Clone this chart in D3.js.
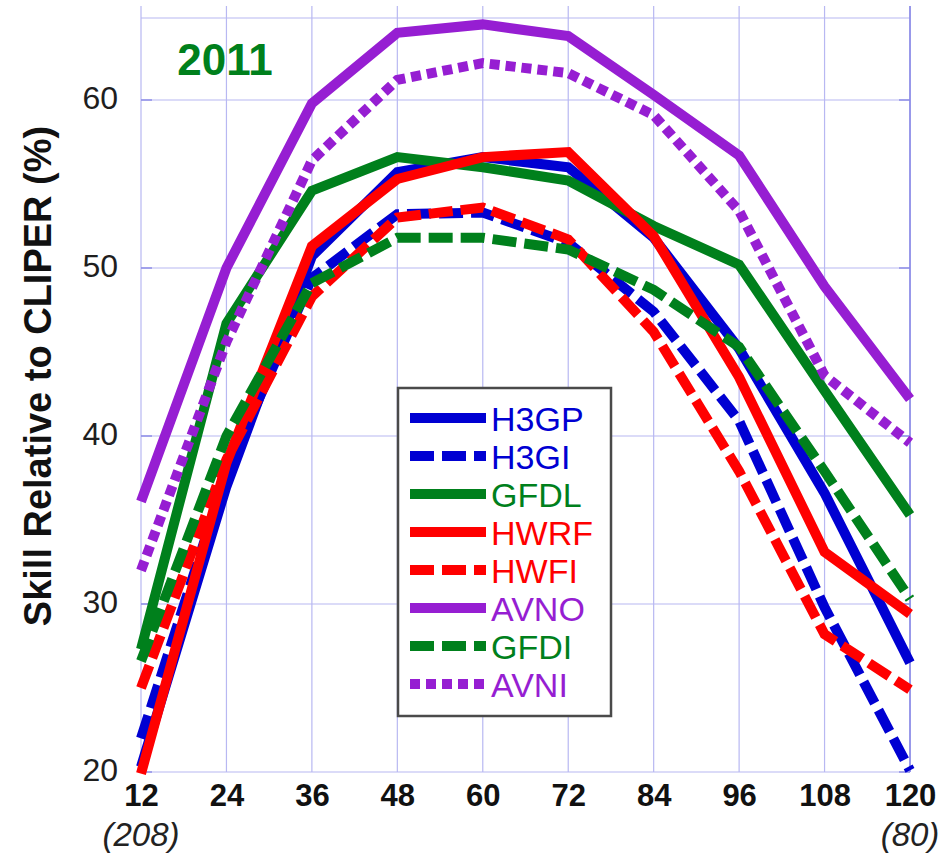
<!DOCTYPE html>
<html>
<head>
<meta charset="utf-8">
<script src="https://cdn.jsdelivr.net/npm/d3@7/dist/d3.min.js"></script>
<style>
  html, body { margin: 0; padding: 0; background: #fff; }
  svg { display: block; font-family: "Liberation Sans", Arial, Helvetica, sans-serif; }
</style>
</head>
<body>
<svg id="chart" width="943" height="854"></svg>
<script>
// Forecast hours and the number of verifying cases at the ends
const leadTimes = [12, 24, 36, 48, 60, 72, 84, 96, 108, 120];
const caseCounts = { 12: "(208)", 120: "(80)" };
const yTicks = [20, 30, 40, 50, 60];

// Track forecast skill relative to CLIPER (%), one array per model
const H3GP = [20.3, 37.0, 50.7, 55.7, 56.6, 56.0, 51.8, 45.2, 36.6, 26.5];
const H3GI = [22.0, 37.8, 49.4, 53.2, 53.3, 51.5, 47.4, 40.9, 29.8, 20.1];
const GFDL = [27.3, 46.7, 54.6, 56.6, 56.0, 55.2, 52.5, 50.2, 42.7, 35.3];
const HWRF = [19.9, 38.4, 51.3, 55.3, 56.6, 56.9, 51.9, 43.5, 33.1, 29.4];
const HWFI = [25.0, 38.6, 48.3, 53.0, 53.6, 51.7, 46.2, 37.9, 28.2, 24.9];
const AVNO = [36.1, 50.0, 59.8, 64.0, 64.5, 63.8, 60.3, 56.7, 48.9, 42.2];
const GFDI = [26.6, 40.0, 49.1, 51.8, 51.8, 51.1, 48.7, 45.3, 37.9, 30.3];
const AVNI = [32.0, 45.6, 56.4, 61.2, 62.2, 61.6, 59.1, 53.4, 43.6, 39.6];

const seriesNames = ["H3GP", "H3GI", "GFDL", "HWRF", "HWFI", "AVNO", "GFDI", "AVNI"];
const seriesValues = [H3GP, H3GI, GFDL, HWRF, HWFI, AVNO, GFDI, AVNI];

// Line styling per model
const BLUE = "#0000d2", GREEN = "#00801c", RED = "#ff0000", PURPLE = "#961ed2";
const styles = {
  H3GP: { color: BLUE,   dash: null },
  H3GI: { color: BLUE,   dash: "24,8" },
  GFDL: { color: GREEN,  dash: null },
  HWRF: { color: RED,    dash: null },
  HWFI: { color: RED,    dash: "24,8" },
  AVNO: { color: PURPLE, dash: null },
  GFDI: { color: GREEN,  dash: "24,8" },
  AVNI: { color: PURPLE, dash: "10,6" }
};

const svg = d3.select("#chart");
const GRID = "#b8b8f2", TICK = "#8a8ae6";

const x = d3.scaleLinear().domain([12, 120]).range([141, 910]);
const y = d3.scaleLinear().domain([20, 65]).range([772, 16]);
const yTop = 64.88;

// Grid
const grid = svg.append("g");
grid.selectAll("line.v").data(leadTimes).join("line")
  .attr("x1", d => x(d)).attr("x2", d => x(d))
  .attr("y1", 6).attr("y2", y(20))
  .attr("stroke", GRID).attr("stroke-width", 1.2);
grid.selectAll("line.h").data(yTicks.concat([yTop])).join("line")
  .attr("x1", x(12)).attr("x2", x(120))
  .attr("y1", d => y(d)).attr("y2", d => y(d))
  .attr("stroke", GRID).attr("stroke-width", 1.2);
// small inward ticks on both sides
grid.selectAll("line.tl").data(yTicks).join("line")
  .attr("x1", x(12)).attr("x2", x(12) + 11)
  .attr("y1", d => y(d)).attr("y2", d => y(d))
  .attr("stroke", TICK).attr("stroke-width", 1.4);
grid.selectAll("line.tr").data(yTicks).join("line")
  .attr("x1", x(120) - 11).attr("x2", x(120))
  .attr("y1", d => y(d)).attr("y2", d => y(d))
  .attr("stroke", TICK).attr("stroke-width", 1.4);
grid.append("line")
  .attr("x1", x(120)).attr("x2", x(120)).attr("y1", 6).attr("y2", y(20))
  .attr("stroke", TICK).attr("stroke-width", 1.6);

// Y axis labels
const yAxis = svg.append("g")
  .attr("transform", `translate(${x(12)},0)`)
  .call(d3.axisLeft(y).tickValues(yTicks).tickSize(0).tickPadding(23).tickFormat(d3.format("d")));
yAxis.select(".domain").remove();
yAxis.selectAll("text")
  .attr("dy", "0.25em")
  .attr("fill", "#1e1e1e")
  .style("font-size", "32px")
  .style("font-family", "'Liberation Sans', Arial, sans-serif");

// X axis labels
const xAxis = svg.append("g")
  .attr("transform", `translate(0,${y(20)})`)
  .call(d3.axisBottom(x).tickValues(leadTimes).tickSize(0).tickPadding(0).tickFormat(d3.format("d")));
xAxis.select(".domain").remove();
xAxis.selectAll("text")
  .attr("y", 34).attr("dy", 0)
  .attr("fill", "#111")
  .style("font-size", "31px")
  .style("font-weight", "bold")
  .style("font-family", "'Liberation Sans', Arial, sans-serif");

// Case counts under the first and last lead times
svg.append("g").selectAll("text").data(Object.keys(caseCounts).map(Number)).join("text")
  .attr("x", d => x(d)).attr("y", 846)
  .attr("text-anchor", "middle")
  .attr("fill", "#222")
  .style("font-size", "33px").style("font-style", "italic")
  .text(d => caseCounts[d]);

// Y axis title
svg.append("text")
  .attr("transform", "translate(51,376) rotate(-90)")
  .attr("text-anchor", "middle")
  .attr("fill", "#111")
  .style("font-size", "38px").style("font-weight", "bold")
  .text("Skill Relative to CLIPER (%)");

// Year label
svg.append("text")
  .attr("x", 225).attr("y", 75)
  .attr("text-anchor", "middle")
  .attr("fill", GREEN)
  .style("font-size", "44px").style("font-weight", "bold")
  .text("2011");

// Model lines
const line = d3.line().x((d, i) => x(leadTimes[i])).y(d => y(d));
const lines = svg.append("g");
seriesNames.forEach((name, k) => {
  lines.append("path")
    .datum(seriesValues[k])
    .attr("d", line)
    .attr("fill", "none")
    .attr("stroke", styles[name].color)
    .attr("stroke-width", 10)
    .attr("stroke-linejoin", "miter")
    .attr("stroke-linecap", "butt")
    .attr("stroke-dasharray", styles[name].dash);
});

// Legend
const legend = svg.append("g");
legend.append("rect")
  .attr("x", 398).attr("y", 388).attr("width", 213).attr("height", 328)
  .attr("fill", "#fff").attr("stroke", "#4a4a4a").attr("stroke-width", 2.5);
const rowY = d3.scaleLinear().domain([0, 7]).range([418, 684]);
const rows = legend.selectAll("g.row").data(seriesNames).join("g")
  .attr("transform", (d, i) => `translate(0,${rowY(i)})`);
rows.append("line")
  .attr("x1", 410).attr("x2", 486).attr("y1", 0).attr("y2", 0)
  .attr("stroke", d => styles[d].color)
  .attr("stroke-width", 10)
  .attr("stroke-dasharray", d => styles[d].dash);
rows.append("text")
  .attr("x", 491).attr("y", 13)
  .attr("fill", d => styles[d].color)
  .style("font-size", "34px")
  .text(d => d);
</script>
</body>
</html>
